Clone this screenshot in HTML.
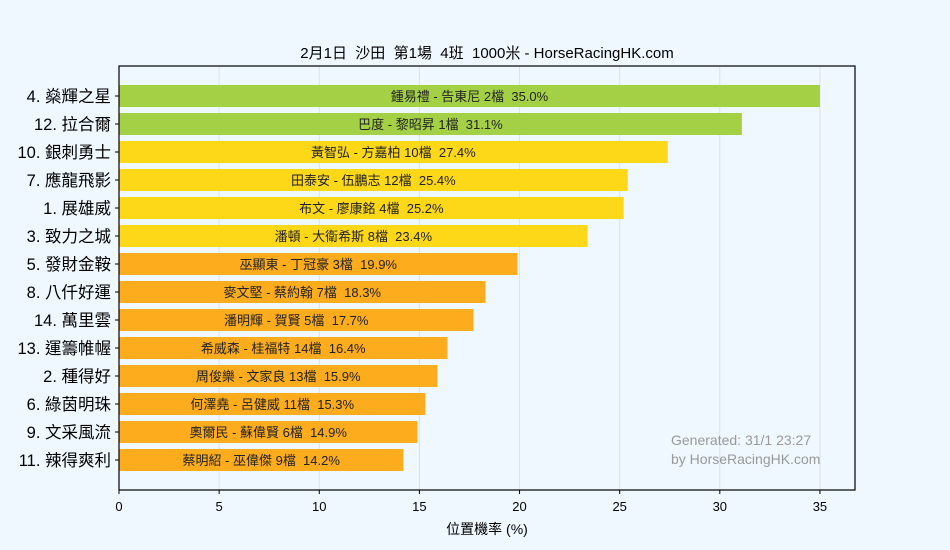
<!DOCTYPE html>
<html><head><meta charset="utf-8"><style>
body{margin:0;background:#f0f8ff;font-family:"Liberation Sans","Noto Sans CJK TC",sans-serif}
svg{display:block}
svg text{white-space:pre}
</style></head><body>
<svg id="c" width="950" height="550" xmlns="http://www.w3.org/2000/svg" xml:space="preserve">
<rect width="950" height="550" fill="#f0f8ff"/>
<text x="487" y="58" text-anchor="middle" font-size="15" fill="#000">2月1日  沙田  第1場  4班  1000米 - HorseRacingHK.com</text>
<g id="grid"></g><g id="bars"></g><g id="axes"></g>
<text x="487" y="534" text-anchor="middle" font-size="14">位置機率 (%)</text>
<text x="671" y="445" font-size="14" fill="#999">Generated: 31/1 23:27</text>
<text x="671" y="464" font-size="14" fill="#999">by HorseRacingHK.com</text>
</svg>
<script>
const horses=["4. 燊輝之星","12. 拉合爾","10. 銀刺勇士","7. 應龍飛影","1. 展雄威","3. 致力之城","5. 發財金鞍","8. 八仟好運","14. 萬里雲","13. 運籌帷幄","2. 種得好","6. 綠茵明珠","9. 文采風流","11. 辣得爽利"];
const jockeys=["鍾易禮 - 告東尼 2檔","巴度 - 黎昭昇 1檔","黃智弘 - 方嘉柏 10檔","田泰安 - 伍鵬志 12檔","布文 - 廖康銘 4檔","潘頓 - 大衛希斯 8檔","巫顯東 - 丁冠豪 3檔","麥文堅 - 蔡約翰 7檔","潘明輝 - 賀賢 5檔","希威森 - 桂福特 14檔","周俊樂 - 文家良 13檔","何澤堯 - 呂健威 11檔","奧爾民 - 蘇偉賢 6檔","蔡明紹 - 巫偉傑 9檔"];
const values=[35.0,31.1,27.4,25.4,25.2,23.4,19.9,18.3,17.7,16.4,15.9,15.3,14.9,14.2];
const xTicks=[0,5,10,15,20,25,30,35];
const L=119,R=855,T=66,B=490,XMAX=36.75;
const NS="http://www.w3.org/2000/svg";
function xs(v){return L+(v/XMAX)*(R-L);}
function ys(i){return T+30+i*28;}
function color(v){return v>=30?"#a3d044":(v>=20?"#fcd819":"#fcac1c");}
function mk(tag,attrs,parent){const e=document.createElementNS(NS,tag);for(const k in attrs)e.setAttribute(k,attrs[k]);parent.appendChild(e);return e;}
const grid=document.getElementById('grid'),bars=document.getElementById('bars'),axes=document.getElementById('axes');
mk('rect',{x:L,y:T,width:R-L,height:B-T,fill:"#f0f8ff"},grid);
xTicks.forEach(t=>{
  const g=mk('line',{x1:xs(t),x2:xs(t),y1:T,y2:B,stroke:"#dde2e8","stroke-width":1},grid);
  
  
  mk('line',{x1:xs(t),x2:xs(t),y1:B,y2:B+4,stroke:"#000"},axes);
  const tx=mk('text',{x:xs(t),y:B+21,"text-anchor":"middle","font-size":"13"},axes);
  tx.textContent=t;
  
  
});
values.forEach((v,i)=>{
  const y=ys(i);
  const r=mk('rect',{x:L,y:y-11,width:xs(v)-L,height:22,fill:color(v)},bars);
  
  
  const lb=mk('text',{x:(L+xs(v))/2,y:y+5,"text-anchor":"middle","font-size":"13",fill:"#222"},bars);
  lb.textContent=jockeys[i]+"  "+v.toFixed(1)+"%";
  
  
  mk('line',{x1:L-4,x2:L,y1:y,y2:y,stroke:"#000"},axes);
  const hl=mk('text',{x:L-8,y:y+6,"text-anchor":"end","font-size":"16.5"},axes);
  hl.textContent=horses[i];
  
  
});
const fr=mk('rect',{x:L,y:T,width:R-L,height:B-T,fill:"none",stroke:"#000","stroke-width":1.2},axes);


</script>
</body></html>
